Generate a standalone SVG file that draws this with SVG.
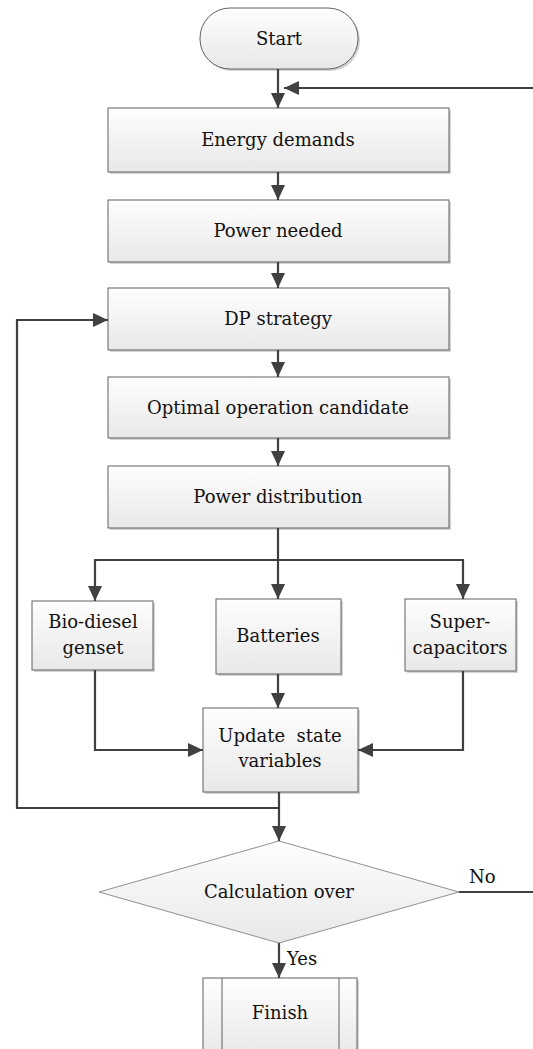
<svg xmlns="http://www.w3.org/2000/svg" width="533" height="1049" viewBox="0 0 533 1049">
<style>
.box{fill:url(#g);stroke:#606060;stroke-width:1}
.sh{fill:#d4d4d4}
text{font-family:'DejaVu Serif','Liberation Serif',serif;font-size:18px;fill:#111;text-anchor:middle}
.c{fill:none;stroke:#404040;stroke-width:2.2}
</style>
<defs>
<linearGradient id="g" x1="0" y1="0" x2="0" y2="1">
<stop offset="0" stop-color="#fefefe"/>
<stop offset="1" stop-color="#e8e8e8"/>
</linearGradient>
<marker id="a" markerUnits="userSpaceOnUse" markerWidth="16" markerHeight="14" refX="15" refY="7" orient="auto">
<path d="M0,0 L15,7 L0,14 Z" fill="#404040"/>
</marker>
</defs>
<g id="start">
<rect class="sh" x="202" y="10" width="158" height="61" rx="30"/>
<rect class="box" x="200" y="8" width="158" height="61" rx="30"/>
<text x="279" y="45">Start</text>
</g>
<g id="energy">
<rect class="sh" x="110" y="110" width="341" height="64"/>
<rect class="box" x="108" y="108" width="341" height="64"/>
<text x="278" y="146">Energy demands</text>
</g>
<g id="power">
<rect class="sh" x="110" y="202" width="341" height="62"/>
<rect class="box" x="108" y="200" width="341" height="62"/>
<text x="278" y="237">Power needed</text>
</g>
<g id="dp">
<rect class="sh" x="110" y="290" width="341" height="62"/>
<rect class="box" x="108" y="288" width="341" height="62"/>
<text x="278" y="325">DP strategy</text>
</g>
<g id="optimal">
<rect class="sh" x="110" y="379" width="341" height="61"/>
<rect class="box" x="108" y="377" width="341" height="61"/>
<text x="278" y="414">Optimal operation candidate</text>
</g>
<g id="distribution">
<rect class="sh" x="110" y="468" width="341" height="62"/>
<rect class="box" x="108" y="466" width="341" height="62"/>
<text x="278" y="503">Power distribution</text>
</g>
<g id="biodiesel">
<rect class="sh" x="34" y="603" width="121" height="69"/>
<rect class="box" x="32" y="601" width="121" height="69"/>
<text x="93" y="628">Bio-diesel</text>
<text x="93" y="654">genset</text>
</g>
<g id="batteries">
<rect class="sh" x="218" y="601" width="125" height="75"/>
<rect class="box" x="216" y="599" width="125" height="75"/>
<text x="278" y="642">Batteries</text>
</g>
<g id="supercap">
<rect class="sh" x="407" y="601" width="111" height="72"/>
<rect class="box" x="405" y="599" width="111" height="72"/>
<text x="460" y="628">Super-</text>
<text x="460" y="654">capacitors</text>
</g>
<g id="update">
<rect class="sh" x="205" y="710" width="155" height="84"/>
<rect class="box" x="203" y="708" width="155" height="84"/>
<text x="280" y="742" xml:space="preserve">Update  state</text>
<text x="280" y="767">variables</text>
</g>
<g id="decision">
<polygon class="box" points="279,841 459,892 279,943 99,892" style="stroke:#909090"/>
<text x="279" y="898">Calculation over</text>
</g>
<g id="finish">
<rect class="sh" x="205" y="980" width="154" height="80"/>
<rect class="box" x="203" y="978" width="154" height="80"/>
<line x1="222" y1="978" x2="222" y2="1058" stroke="#606060" stroke-width="1"/>
<line x1="339" y1="978" x2="339" y2="1058" stroke="#606060" stroke-width="1"/>
<text x="280" y="1019">Finish</text>
</g>
<g id="connectors">
<path class="c" d="M278,69 V108" marker-end="url(#a)"/>
<path class="c" d="M533,88 H284" marker-end="url(#a)"/>
<path class="c" d="M278,172 V200" marker-end="url(#a)"/>
<path class="c" d="M278,262 V288" marker-end="url(#a)"/>
<path class="c" d="M278,350 V377" marker-end="url(#a)"/>
<path class="c" d="M278,438 V466" marker-end="url(#a)"/>
<path class="c" d="M278,528 V560 M94,560 H464"/>
<path class="c" d="M95,560 V601" marker-end="url(#a)"/>
<path class="c" d="M278,560 V599" marker-end="url(#a)"/>
<path class="c" d="M463,560 V599" marker-end="url(#a)"/>
<path class="c" d="M95,670 V750 H203" marker-end="url(#a)"/>
<path class="c" d="M463,671 V750 H358" marker-end="url(#a)"/>
<path class="c" d="M278,674 V708" marker-end="url(#a)"/>
<path class="c" d="M279,792 V841" marker-end="url(#a)"/>
<path class="c" d="M279,808 H17 V320 H108" marker-end="url(#a)"/>
<path class="c" d="M459,892 H533"/>
<path class="c" d="M279,943 V978" marker-end="url(#a)"/>
<text x="469" y="883" style="text-anchor:start">No</text>
<text x="287" y="965" style="text-anchor:start">Yes</text>
</g>
</svg>
